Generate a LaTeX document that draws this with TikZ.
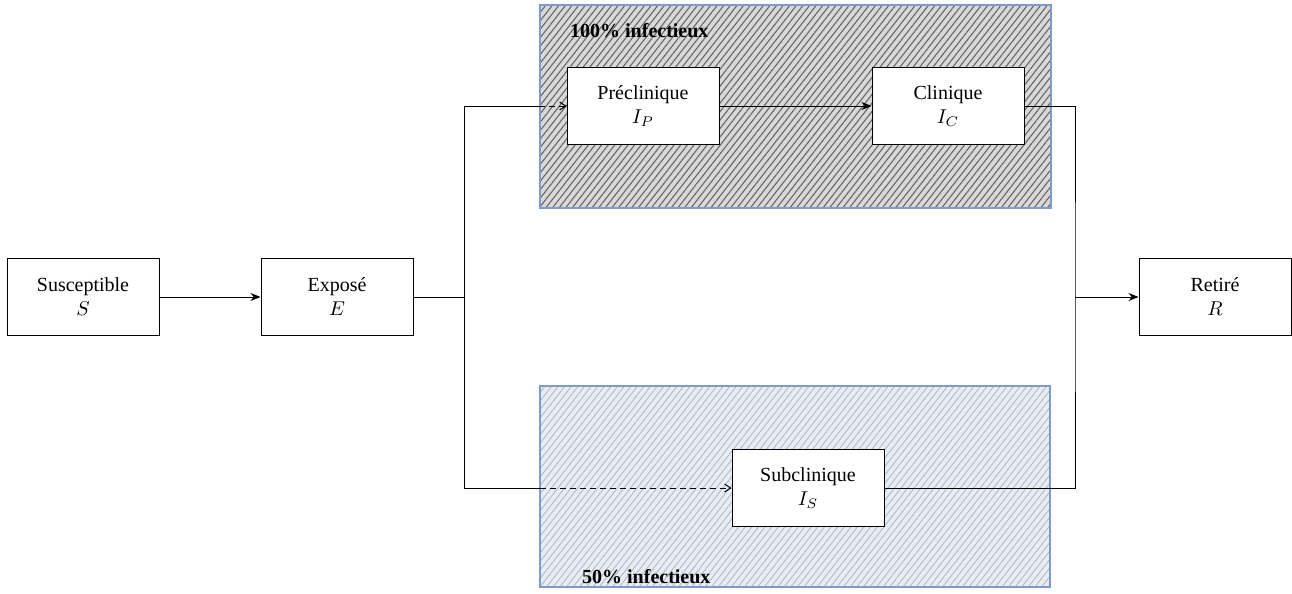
\documentclass[tikz,border=0pt]{standalone}
\usepackage{fontspec}
\setmainfont{Liberation Serif}
\usetikzlibrary{positioning, arrows.meta, patterns.meta}
\definecolor{cadre}{HTML}{7F9BCB}
\definecolor{fondbleu}{HTML}{E6EDF7}

\begin{document}
\begin{tikzpicture}[
     x = 0.5pt, y = -0.5pt, line width=0.5pt,
       box/.style = {rectangle, draw, fill=white, minimum width=76pt, minimum height=38.5pt, align=center, inner sep=2pt},
      zone/.style = {rectangle, draw=cadre, line width=0.9pt, inner sep=0pt},
  zonehaut/.style = {zone, preaction={fill=gray!30}, pattern={Lines[angle=52,distance=2.6pt,line width=0.55pt]}, pattern color=black!60},
   zonebas/.style = {zone, preaction={fill=fondbleu}, pattern={Lines[angle=52,distance=2.6pt,line width=0.45pt]}, pattern color=gray!55},
    fleche/.style = {-{Stealth[length=5pt,width=4pt]}},
     tiret/.style = {densely dashed, -{Straight Barb[length=3pt,width=4pt]}}
                        ]
\useasboundingbox (0,0) rectangle (1292,594);
% zones
\node (haut) [zonehaut, minimum width=255.5pt, minimum height=101.5pt] at (795.5,106.5) {};
\node (bas)  [zonebas,  minimum width=255pt,   minimum height=100.5pt] at (795,486.5) {};
\node (txthaut) [anchor=west, font=\bfseries] at (563,31)  {100\% infectieux};
\node (txtbas)  [anchor=west, font=\bfseries] at (575,577) {50\% infectieux};
% compartiments
\node (sus) [box] at (83,297)   {Susceptible\\ $S$};
\node (exp) [box] at (337,297)  {Exposé\\ $E$};
\node (pre) [box] at (643,106)  {Préclinique\\ $I_P$};
\node (cli) [box] at (948,106)  {Clinique\\ $I_C$};
\node (sub) [box] at (808,488)  {Subclinique\\ $I_S$};
\node (ret) [box] at (1215,297) {Retiré\\ $R$};
\coordinate (fourche)  at (464,297);
\coordinate (jonction) at (1075,297);
% flux
\draw[fleche] (sus) -- (exp);
\draw (exp) -- (fourche);
\draw (fourche |- pre) -- (fourche |- sub);
\draw (fourche |- pre) -- (haut.west |- pre);
\draw[tiret] (haut.west |- pre) -- (pre);
\draw (fourche |- sub) -- (bas.west |- sub);
\draw[tiret] (bas.west |- sub) -- (sub);
\draw[fleche] (pre) -- (cli);
\draw (cli.east) -| (jonction) |- (sub.east);
\draw[fleche] (jonction) -- (ret);
\end{tikzpicture}
\end{document}
